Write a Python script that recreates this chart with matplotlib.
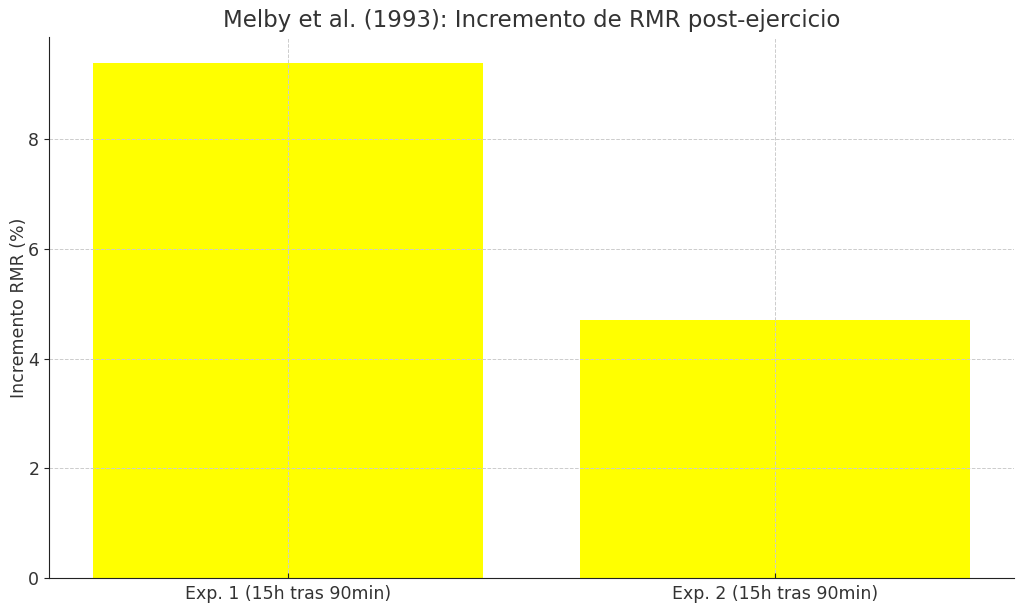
import matplotlib
matplotlib.use("Agg")
import matplotlib.pyplot as plt

categories = ["Exp. 1 (15h tras 90min)", "Exp. 2 (15h tras 90min)"]
values = [9.4, 4.7]
title = "Melby et al. (1993): Incremento de RMR post-ejercicio"
ylabel = "Incremento RMR (%)"

text_color = "#333333"
fig = plt.figure(figsize=(10.24, 6.11), dpi=100)
ax = fig.add_axes([0.0479, 0.054, 0.9423, 0.8855])
ax.bar(categories, values, color="#FFFF00", width=0.8)
ax.set_title(title, fontsize=16.5, color=text_color, pad=7)
ax.set_ylabel(ylabel, fontsize=12.5, color=text_color, labelpad=0)
ax.grid(True, linestyle="--", color="#cccccc", linewidth=0.7)
for s in ["top", "right"]:
    ax.spines[s].set_visible(False)
for s in ["left", "bottom"]:
    ax.spines[s].set_color("#222222")
ax.tick_params(axis="y", labelsize=12.5, labelcolor=text_color, color="#222222")
ax.tick_params(axis="x", labelsize=12.5, labelcolor=text_color, color="#222222", direction="in", pad=5)
ax.set_yticks([0, 2, 4, 6, 8])
fig.savefig("out.png", dpi=100)
